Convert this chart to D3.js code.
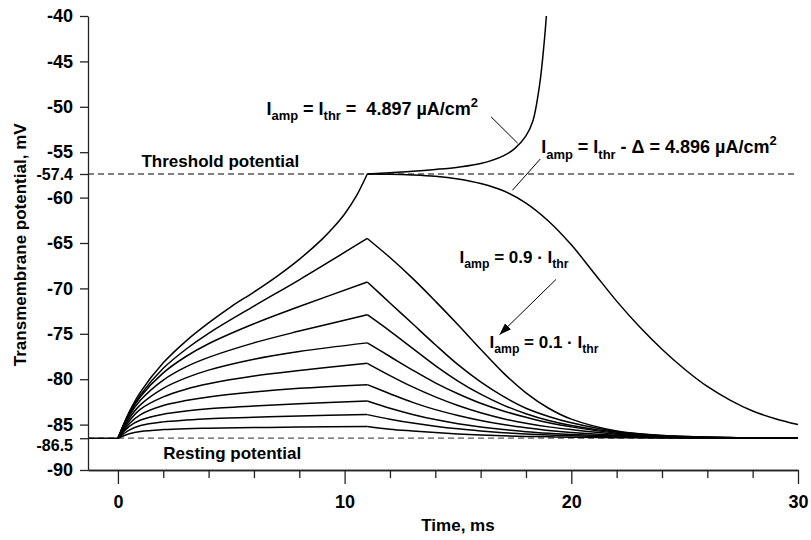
<!DOCTYPE html>
<html>
<head>
<meta charset="utf-8">
<script src="https://cdn.jsdelivr.net/npm/d3@7"></script>
<style>
  body { margin: 0; background: #fff; }
  svg text { font-family: "Liberation Sans", Arial, sans-serif; font-weight: bold; fill: #000; }
  .axis path, .axis line { stroke: #222; stroke-width: 1.3; }
</style>
</head>
<body>
<div id="chart"></div>
<script>
// resting / threshold levels
const vRest = -86.5, vThr = -57.4;

// y ticks (mV), x ticks (ms)
const yTicks = [-40, -45, -50, -55, -60, -65, -70, -75, -80, -85, -90];
const ySpecial = [-57.4, -86.5];
const xMajor = [0, 10, 20, 30];
const xMinor = [2, 4, 6, 8, 12, 14, 16, 18, 22, 24, 26, 28];

// before stimulus onset
const tPre = [-1.32, 0];
const vPre = [-86.5, -86.5];

// sub-threshold curves, I_amp = 0.1 .. 0.9 * I_thr
const tRise = [0, 0.5, 1, 2, 3, 4, 6, 8, 11];
const riseSub = [
  [-86.5, -86.0, -85.75, -85.55, -85.45, -85.4, -85.33, -85.27, -85.2],
  [-86.5, -85.6, -85.1, -84.7, -84.5, -84.35, -84.2, -84.05, -83.9],
  [-86.5, -85.2, -84.5, -83.85, -83.5, -83.25, -82.95, -82.7, -82.4],
  [-86.5, -84.9, -83.9, -82.9, -82.35, -81.95, -81.4, -81.0, -80.6],
  [-86.5, -84.6, -83.3, -81.95, -81.1, -80.5, -79.65, -79.05, -78.25],
  [-86.5, -84.3, -82.8, -81.0, -79.85, -79.0, -77.8, -76.95, -76.0],
  [-86.5, -84.0, -82.3, -80.1, -78.65, -77.6, -76.0, -74.7, -72.9],
  [-86.5, -83.8, -81.9, -79.3, -77.5, -76.1, -73.9, -72.0, -69.3],
  [-86.5, -83.7, -81.7, -78.8, -76.7, -74.95, -71.95, -69.05, -64.5]
];
const tFall = [11, 12, 13, 14, 15, 16, 17, 18, 19, 20, 22, 24, 27, 30];
const fallSub = [
  [-85.2, -85.5, -85.7, -85.88, -86.03, -86.14, -86.23, -86.3, -86.35, -86.39, -86.44, -86.47, -86.49, -86.5],
  [-83.9, -84.4, -84.83, -85.18, -85.47, -85.7, -85.89, -86.04, -86.15, -86.24, -86.36, -86.44, -86.49, -86.5],
  [-82.4, -83.2, -83.88, -84.45, -84.9, -85.26, -85.55, -85.78, -85.95, -86.08, -86.26, -86.4, -86.47, -86.5],
  [-80.6, -81.6, -82.55, -83.35, -84.0, -84.55, -85.0, -85.35, -85.65, -85.87, -86.18, -86.36, -86.46, -86.5],
  [-78.25, -79.6, -80.85, -81.95, -82.9, -83.7, -84.35, -84.85, -85.25, -85.55, -86.05, -86.32, -86.45, -86.5],
  [-76.0, -77.5, -79.0, -80.4, -81.6, -82.65, -83.5, -84.2, -84.8, -85.25, -85.95, -86.28, -86.44, -86.5],
  [-72.9, -74.7, -76.6, -78.5, -80.2, -81.65, -82.85, -83.8, -84.55, -85.1, -85.85, -86.25, -86.44, -86.5],
  [-69.3, -71.6, -73.9, -76.2, -78.4, -80.3, -81.9, -83.2, -84.1, -84.8, -85.75, -86.2, -86.43, -86.5],
  [-64.5, -66.6, -68.9, -71.4, -74.0, -76.7, -79.3, -81.5, -83.2, -84.4, -85.7, -86.2, -86.43, -86.5]
];

// I_amp = I_thr (fires) and I_thr - delta (decays)
const tThrRise = [0, 0.5, 1, 2, 3, 4, 5, 6, 7, 8, 9, 9.5, 10, 10.5, 11];
const vThrRise = [-86.5, -83.6, -81.4, -78.2, -75.8, -73.8, -72.0, -70.4, -68.7, -66.8, -64.6, -63.3, -61.8, -59.9, -57.4];
const tFire = [11, 12, 13, 14, 15, 16, 17, 17.5, 18, 18.3, 18.6, 18.8, 18.9];
const vFire = [-57.4, -57.25, -57.1, -56.9, -56.65, -56.25, -55.4, -54.6, -53.2, -51.6, -47.6, -43.0, -40.0];
const tBelow = [11, 12, 13, 14, 15, 16, 17, 18, 19, 20, 21, 22, 23, 24, 25, 26, 27, 28, 29, 30];
const vBelow = [-57.4, -57.42, -57.5, -57.65, -57.95, -58.45, -59.25, -60.6, -62.6, -65.2, -68.3, -71.4, -74.2, -76.7, -78.9, -80.8, -82.3, -83.5, -84.35, -85.0];

const width = 811, height = 540;
const svg = d3.select("#chart").append("svg")
  .attr("width", width)
  .attr("height", height);

const x = d3.scaleLinear().domain([-1.32, 30]).range([88, 798]);
const y = d3.scaleLinear().domain([-90, -40]).range([470, 16]);

// dashed reference levels
[vThr, vRest].forEach(v => {
  svg.append("line")
    .attr("x1", x(-1.32)).attr("x2", x(30))
    .attr("y1", y(v)).attr("y2", y(v))
    .attr("stroke", "#555")
    .attr("stroke-width", 1.3)
    .attr("stroke-dasharray", "6,4");
});

const zip = (ts, vs) => ts.map((t, i) => [t, vs[i]]);
const lineLin = d3.line().x(d => x(d[0])).y(d => y(d[1]));
const lineSmooth = d3.line().x(d => x(d[0])).y(d => y(d[1])).curve(d3.curveCatmullRom.alpha(0.5));

const curves = svg.append("g")
  .attr("fill", "none")
  .attr("stroke", "#000")
  .attr("stroke-width", 1.5);

curves.append("path").attr("d", lineLin(zip(tPre, vPre)));

riseSub.forEach((r, i) => {
  curves.append("path").attr("d", lineSmooth(zip(tRise, r)));
  curves.append("path").attr("d", lineSmooth(zip(tFall, fallSub[i])));
});

curves.append("path").attr("d", lineSmooth(zip(tThrRise, vThrRise)));
curves.append("path").attr("d", lineSmooth(zip(tFire, vFire)));
curves.append("path").attr("d", lineSmooth(zip(tBelow, vBelow)));

// axes
const fmt = d => String(d);
const yAxis = svg.append("g")
  .attr("class", "axis")
  .attr("transform", `translate(${x(-1.32)},0)`)
  .call(d3.axisLeft(y).tickValues(yTicks.concat(ySpecial)).tickFormat(fmt).tickSize(8).tickSizeOuter(0).tickPadding(7));
yAxis.selectAll("text")
  .style("font-size", d => ySpecial.includes(d) ? "16px" : "18px")
  .attr("dy", d => d === -86.5 ? "0.75em" : "0.32em");

svg.append("g")
  .attr("class", "axis")
  .attr("transform", `translate(0,${y(-90)})`)
  .call(d3.axisBottom(x).tickValues(xMinor).tickFormat("").tickSize(8).tickSizeOuter(0));

const xAxis = svg.append("g")
  .attr("class", "axis")
  .attr("transform", `translate(0,${y(-90)})`)
  .call(d3.axisBottom(x).tickValues(xMajor).tickFormat(fmt).tickSize(14).tickSizeOuter(0).tickPadding(11));
xAxis.selectAll("text").style("font-size", "18px");

svg.selectAll(".axis text").attr("fill", "#000");

// axis titles
svg.append("text")
  .attr("x", 458).attr("y", 531)
  .attr("text-anchor", "middle")
  .style("font-size", "17px")
  .text("Time, ms");

svg.append("text")
  .attr("transform", `translate(26,${y(-65.2)}) rotate(-90)`)
  .attr("text-anchor", "middle")
  .style("font-size", "17px")
  .text("Transmembrane potential, mV");

// level labels
svg.append("text")
  .attr("x", x(1.04)).attr("y", y(-56.6))
  .style("font-size", "17px")
  .text("Threshold potential");

svg.append("text")
  .attr("x", x(2.0)).attr("y", y(-88.8))
  .style("font-size", "17px")
  .text("Resting potential");

// formula labels with sub/superscripts
function formula(tx, ty, size, parts) {
  const t = svg.append("text")
    .attr("x", x(tx)).attr("y", y(ty))
    .style("font-size", size + "px")
    .style("white-space", "pre");
  let shift = 0;
  parts.forEach(p => {
    const target = p[1] === "sub" ? size * 0.3 : p[1] === "sup" ? -size * 0.45 : 0;
    t.append("tspan")
      .attr("dy", target - shift)
      .style("font-size", p[1] ? (size * 0.72) + "px" : null)
      .text(p[0]);
    shift = target;
  });
}

formula(6.55, -50.9, 18, [["I"], ["amp", "sub"], [" = I"], ["thr", "sub"], [" =  4.897 \u00b5A/cm"], ["2", "sup"]]);
formula(18.67, -55.1, 18, [["I"], ["amp", "sub"], [" = I"], ["thr", "sub"], [" - \u0394 = 4.896 \u00b5A/cm"], ["2", "sup"]]);
formula(15.07, -67.2, 17, [["I"], ["amp", "sub"], [" = 0.9 \u00b7 I"], ["thr", "sub"]]);
formula(16.39, -76.6, 17, [["I"], ["amp", "sub"], [" = 0.1 \u00b7 I"], ["thr", "sub"]]);

// leader lines
const leaders = [
  [[16.46, -51.1], [17.63, -54.0]],
  [[18.63, -55.75], [17.4, -59.2]]
];
leaders.forEach(l => {
  svg.append("line")
    .attr("x1", x(l[0][0])).attr("y1", y(l[0][1]))
    .attr("x2", x(l[1][0])).attr("y2", y(l[1][1]))
    .attr("stroke", "#000").attr("stroke-width", 1);
});

// arrow from 0.9 label to 0.1 label
svg.append("defs").append("marker")
  .attr("id", "arrow")
  .attr("viewBox", "0 0 10 10")
  .attr("refX", 10).attr("refY", 5)
  .attr("markerWidth", 12).attr("markerHeight", 12)
  .attr("markerUnits", "userSpaceOnUse")
  .attr("orient", "auto")
  .append("path")
  .attr("d", "M0,1.5 L10,5 L0,8.5 Z")
  .attr("fill", "#000");

svg.append("line")
  .attr("x1", x(19.33)).attr("y1", y(-69.0))
  .attr("x2", x(16.83)).attr("y2", y(-75.1))
  .attr("stroke", "#000").attr("stroke-width", 1)
  .attr("marker-end", "url(#arrow)");
</script>
</body>
</html>
